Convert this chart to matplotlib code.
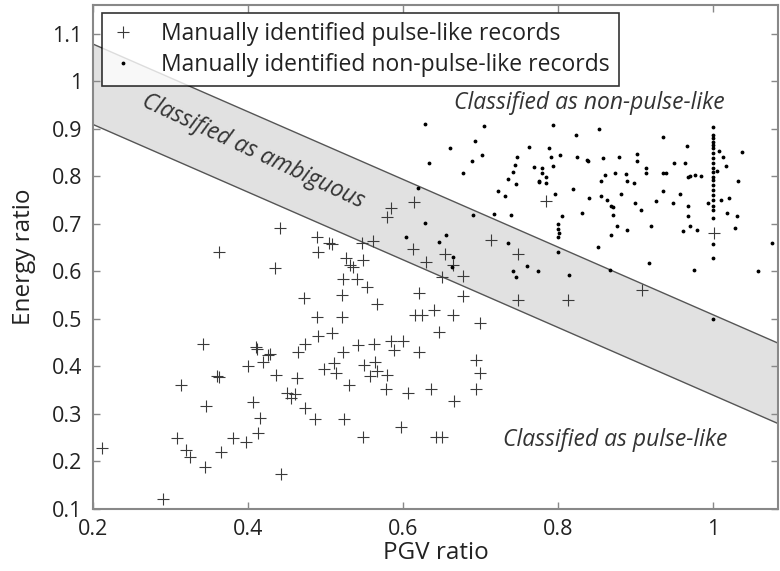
import numpy as np
import matplotlib
matplotlib.use("Agg")
import matplotlib.pyplot as plt

plt.rcParams['font.family'] = ['Open Sans', 'DejaVu Sans']

# Manually identified pulse-like records (PGV ratio, energy ratio)
pulse_pgv = [0.441, 0.489, 0.504, 0.508, 0.491, 0.363, 0.435, 0.472, 0.489, 0.490,
             0.508, 0.474, 0.465, 0.342, 0.410, 0.411, 0.426, 0.429, 0.419, 0.400,
             0.511, 0.498, 0.514, 0.360, 0.363, 0.436, 0.463, 0.314, 0.450, 0.461,
             0.456, 0.406, 0.346, 0.474, 0.415, 0.486, 0.413, 0.381, 0.309, 0.397,
             0.320, 0.325, 0.365, 0.345, 0.442, 0.211, 0.290,
             0.585, 0.579, 0.614, 0.785, 0.547, 0.561, 0.613, 0.713, 0.749, 0.654,
             0.630, 0.665, 0.678, 0.650, 0.749, 0.527, 0.549, 0.532, 0.536, 0.522,
             0.541, 0.554, 0.521, 0.621, 0.678, 0.567, 0.640, 0.615, 0.624, 0.665,
             0.699, 0.521, 0.647, 0.542, 0.563, 0.585, 0.600, 0.588, 0.621, 0.523,
             0.550, 0.564, 0.567, 0.557, 0.580, 0.531, 0.578, 0.606, 0.636, 0.694,
             0.699, 0.694, 0.666, 0.524, 0.597, 0.549, 0.643, 0.650,
             0.813, 0.908, 1.001]
pulse_energy = [0.691, 0.672, 0.661, 0.658, 0.642, 0.642, 0.607, 0.544, 0.505, 0.464,
                0.470, 0.447, 0.431, 0.447, 0.440, 0.436, 0.424, 0.426, 0.410, 0.400,
                0.408, 0.394, 0.386, 0.379, 0.377, 0.382, 0.375, 0.362, 0.345, 0.342,
                0.333, 0.326, 0.317, 0.312, 0.292, 0.289, 0.259, 0.250, 0.249, 0.240,
                0.224, 0.209, 0.221, 0.189, 0.174, 0.229, 0.120,
                0.733, 0.714, 0.747, 0.749, 0.659, 0.664, 0.647, 0.666, 0.637, 0.637,
                0.621, 0.614, 0.591, 0.589, 0.539, 0.628, 0.624, 0.614, 0.610, 0.584,
                0.584, 0.567, 0.551, 0.554, 0.549, 0.532, 0.519, 0.508, 0.508, 0.508,
                0.491, 0.505, 0.472, 0.445, 0.447, 0.454, 0.454, 0.435, 0.431, 0.430,
                0.403, 0.410, 0.391, 0.379, 0.382, 0.361, 0.352, 0.345, 0.352, 0.414,
                0.387, 0.352, 0.328, 0.289, 0.272, 0.252, 0.252, 0.252,
                0.541, 0.562, 0.680]

# Manually identified non-pulse-like records
col_energy = [0.887, 0.880, 0.873, 0.866, 0.859, 0.849, 0.838, 0.828, 0.817, 0.810,
              0.799, 0.792, 0.782, 0.772, 0.761, 0.751, 0.737, 0.730, 0.712, 0.658,
              0.628, 0.501]
nonpulse_pgv = [0.620, 0.746, 0.723, 0.732, 0.776, 0.785, 0.796, 0.690, 0.717, 0.740,
                0.628, 0.604, 0.646, 0.655, 0.665, 0.663, 0.736, 0.742, 0.746, 0.760,
                0.774, 0.800, 0.800, 0.801, 0.800, 0.800, 0.628, 0.704, 0.793, 0.823,
                0.661, 0.693, 0.702, 0.689, 0.634, 0.677, 0.763, 0.789, 0.803, 0.825,
                0.747, 0.745, 0.742, 0.735, 0.769, 0.779, 0.780, 0.785, 0.775, 0.794,
                0.791, 0.819, 0.805, 0.814, 0.853, 0.935, 1.000,
                1.008, 1.013, 1.017, 1.005, 1.038, 1.033, 1.021, 1.011, 1.018, 1.031,
                1.028, 0.994, 0.967, 0.964, 0.950, 0.914, 0.914, 0.902, 0.902, 0.935,
                0.940, 0.968, 0.971, 0.977, 0.985, 0.879, 0.858, 0.839, 0.837, 0.861,
                0.874, 0.888, 0.889, 0.898, 0.855, 0.936, 0.958, 0.882, 0.840, 0.855,
                0.863, 0.869, 0.871, 0.899, 0.907, 0.927, 0.948, 0.968, 0.831, 0.871,
                0.876, 0.889, 0.868, 0.920, 0.968, 0.970, 0.961, 0.980, 0.852, 0.917,
                0.975, 1.058, 1.076, 0.867] + [1.0] * len(col_energy)
nonpulse_energy = [0.775, 0.784, 0.770, 0.758, 0.789, 0.786, 0.763, 0.719, 0.721, 0.719,
                   0.703, 0.672, 0.663, 0.677, 0.630, 0.609, 0.661, 0.602, 0.589, 0.612,
                   0.601, 0.701, 0.690, 0.682, 0.672, 0.642, 0.911, 0.906, 0.908, 0.887,
                   0.861, 0.875, 0.845, 0.833, 0.828, 0.807, 0.863, 0.859, 0.845, 0.840,
                   0.840, 0.824, 0.810, 0.795, 0.819, 0.817, 0.808, 0.798, 0.791, 0.822,
                   0.842, 0.774, 0.716, 0.593, 0.899, 0.884, 0.904,
                   0.853, 0.842, 0.823, 0.812, 0.851, 0.791, 0.754, 0.751, 0.723, 0.717,
                   0.691, 0.745, 0.864, 0.829, 0.828, 0.817, 0.808, 0.847, 0.833, 0.808,
                   0.808, 0.798, 0.800, 0.803, 0.800, 0.840, 0.838, 0.833, 0.835, 0.803,
                   0.808, 0.805, 0.790, 0.787, 0.790, 0.770, 0.763, 0.763, 0.754, 0.759,
                   0.751, 0.738, 0.735, 0.744, 0.730, 0.749, 0.745, 0.738, 0.724, 0.718,
                   0.696, 0.687, 0.677, 0.695, 0.716, 0.696, 0.686, 0.687, 0.652, 0.617,
                   0.603, 0.602, 0.659, 0.604] + col_energy

# Pulse indicator: PI = 23.3 - 14.6*PGV - 20.5*Energy ; band at logit(0.85)/logit(0.15)
pi_const, pi_pgv, pi_energy = 23.3, 14.6, 20.5
pi_bound = 1.735

fig = plt.figure(figsize=(7.8, 5.71), dpi=100)
ax = fig.add_axes([93/780, 62/571, 685/780, 504/571])

xs = np.linspace(0.2, 1.1, 50)
upper = (pi_const - pi_pgv * xs + pi_bound) / pi_energy
lower = (pi_const - pi_pgv * xs - pi_bound) / pi_energy
ax.fill_between(xs, lower, upper, color='#e1e1e1', lw=0, zorder=1)
ax.plot(xs, upper, color='#555555', lw=1.0, zorder=2)
ax.plot(xs, lower, color='#555555', lw=1.0, zorder=2)

ax.plot(pulse_pgv, pulse_energy, '+', color='#3a3a3a', ms=8, mew=0.8, ls='none',
        zorder=3, label='Manually identified pulse-like records')
ax.plot(nonpulse_pgv, nonpulse_energy, '.', color='black', ms=3.5, ls='none',
        zorder=3, label='Manually identified non-pulse-like records')

ax.set_xlim(0.2, 1.084)
ax.set_ylim(0.1, 1.161)
ax.set_xticks([0.2, 0.4, 0.6, 0.8, 1.0])
ax.set_xticklabels(['0.2', '0.4', '0.6', '0.8', '1'])
ax.set_yticks([0.1, 0.2, 0.3, 0.4, 0.5, 0.6, 0.7, 0.8, 0.9, 1.0, 1.1])
ax.set_yticklabels(['0.1', '0.2', '0.3', '0.4', '0.5', '0.6', '0.7', '0.8', '0.9', '1', '1.1'])
ax.tick_params(direction='in', top=True, right=True, length=5, width=1,
               color='#888888', labelsize=15.5, labelcolor='#222222')
ax.tick_params(axis='x', pad=7)
ax.tick_params(axis='y', pad=8)
for s in ax.spines.values():
    s.set_color('#888888')
    s.set_linewidth(1.5)

ax.set_xlabel('PGV ratio', fontsize=17.5, color='#222222', labelpad=1)
ax.set_ylabel('Energy ratio', fontsize=17.5, color='#222222', labelpad=11)

ax.text(0.841, 0.955, 'Classified as non-pulse-like', style='italic', fontsize=16.5,
        ha='center', va='center', color='#333333')
ax.text(0.874, 0.245, 'Classified as pulse-like', style='italic', fontsize=16.5,
        ha='center', va='center', color='#333333')
ax.text(0.406, 0.852, 'Classified as ambiguous', style='italic', fontsize=16.5,
        ha='center', va='center', color='#333333', rotation=-25, rotation_mode='anchor')

leg = ax.legend(loc='upper left', bbox_to_anchor=(0.013, 0.984), borderaxespad=0,
                fontsize=16.5, frameon=True, fancybox=False, handlelength=1.0,
                handletextpad=1.2, borderpad=0.4, labelspacing=0.3)
leg.get_frame().set_edgecolor('black')
leg.get_frame().set_linewidth(1.2)
for t in leg.get_texts():
    t.set_color('#222222')

fig.savefig('out.png', dpi=100)
